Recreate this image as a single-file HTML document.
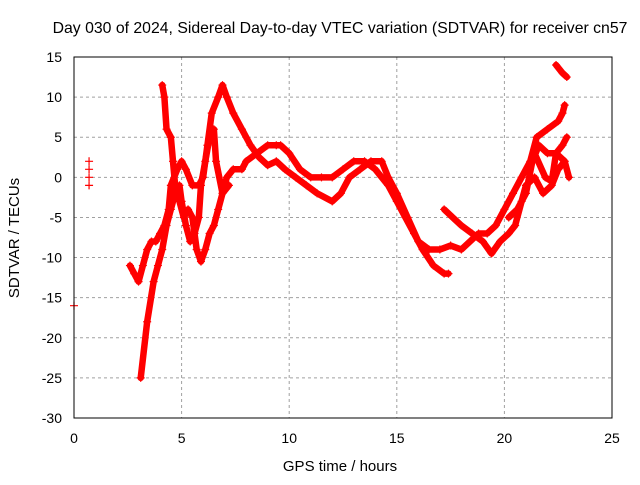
<!DOCTYPE html>
<html><head><meta charset="utf-8"><style>
body{margin:0;background:#fff;}
svg text{font-family:"Liberation Sans",sans-serif;font-size:14px;fill:#000;}
</style></head><body>
<svg id="c" width="640" height="480" xmlns="http://www.w3.org/2000/svg">
<text x="340" y="33" text-anchor="middle" style="font-size:15.8px">Day 030 of 2024, Sidereal Day-to-day VTEC variation (SDTVAR) for receiver cn57</text>
<text x="340" y="471" text-anchor="middle" style="font-size:15px">GPS time / hours</text>
<text transform="translate(19,238) rotate(-90)" text-anchor="middle" style="font-size:15px">SDTVAR / TECUs</text>
<g id="grid"></g><g id="marks"></g>
<rect x="74" y="57" width="538" height="361" fill="none" stroke="#000" stroke-width="1"/>
</svg>
<script>
const xTicks=[0,5,10,15,20,25];
const yTicks=[-30,-25,-20,-15,-10,-5,0,5,10,15];
const trackA=[[4.1,11.5],[4.2,10],[4.3,6],[4.5,5],[4.6,2],[4.7,-1],[4.9,-3],[5.1,-5],[5.3,-4],[5.5,-5],[5.7,-9],[5.9,-10.5],[6.1,-9],[6.3,-7],[6.5,-6],[6.7,-4],[6.9,-2],[7.1,0],[7.4,1],[7.8,1],[8.0,2],[8.5,3],[9.0,4],[9.4,4],[9.6,4],[10,3],[10.5,1],[11,0],[11.5,0],[12,0],[12.5,1],[13,2],[13.5,2],[14,1],[14.3,0],[14.6,-1],[15,-3],[15.4,-5],[15.8,-7],[16.2,-9],[16.7,-11],[17.2,-12],[17.4,-12]];
const trackB=[[2.6,-11],[2.8,-12],[3.0,-13],[3.2,-11],[3.4,-9],[3.6,-8],[3.8,-8],[4.0,-7],[4.2,-6],[4.4,-4],[4.5,-1],[4.8,1],[5.0,2],[5.2,1],[5.5,-1],[5.8,-1],[6.0,0],[6.2,4],[6.4,8],[6.7,10],[6.9,11.5],[7.1,10],[7.4,8],[7.8,6],[8.2,4],[8.6,2.5],[9.0,1.5],[9.4,2],[9.8,1],[10.3,0],[10.8,-1],[11.3,-2],[12,-3],[12.4,-2],[12.8,0],[13.3,1],[13.8,2],[14.3,2],[14.6,0],[15,-2],[15.5,-5],[16,-8],[16.5,-9],[17,-9],[17.5,-8.5],[18,-9],[18.4,-8],[18.8,-7],[19.2,-7],[19.6,-6],[20,-4],[20.4,-2],[20.8,0],[21.2,2],[21.5,5],[22,6],[22.5,7],[22.7,8],[22.8,9]];
const trackC=[[3.1,-25],[3.4,-18],[3.7,-13],[3.9,-11],[4.1,-9],[4.3,-6],[4.5,-4],[4.7,-2],[4.9,-1],[5.0,-3],[5.2,-6],[5.4,-8],[5.6,-7],[5.8,-5],[5.9,-1],[6.1,2],[6.3,5],[6.5,6],[6.6,2],[6.9,-2],[7.2,-1]];
const trackD=[[17.2,-4],[17.6,-5],[18,-6],[18.5,-7],[19,-8],[19.4,-9.5],[19.8,-8],[20.2,-7],[20.5,-6],[20.8,-3],[21,-1],[21.4,0],[21.8,-2],[22.2,-1],[22.5,1],[22.8,2]];
const trackE=[[20.2,-5],[20.6,-4],[21,-2],[21.3,2],[21.6,4],[22,3],[22.4,3],[22.8,2],[23,0]];
const trackF=[[22.4,14],[22.7,13],[22.9,12.5]];
const trackG=[[21.4,3],[21.9,0],[22.2,-0.5],[22.4,3],[22.7,4],[22.9,5]];
const isolated=[[0,-16],[0.7,2],[0.7,1],[0.7,0],[0.7,-1]];
const tracks=[trackA,trackB,trackC,trackD,trackE,trackF,trackG];
const X=h=>74+h*538/25, Y=v=>57+(15-v)*361/45;
const NS='http://www.w3.org/2000/svg';
const grid=document.getElementById('grid'), marks=document.getElementById('marks');
function mk(tag,attrs,parent){const e=document.createElementNS(NS,tag);for(const k in attrs)e.setAttribute(k,attrs[k]);parent.appendChild(e);return e;}
xTicks.forEach(t=>{
  const g=mk('line',{x1:X(t),x2:X(t),y1:57,y2:418,stroke:'#a0a0a0','stroke-dasharray':'3,3'},grid);
  
  
  const l=mk('text',{x:X(t),y:443,'text-anchor':'middle'},grid);l.textContent=t;
  
  
});
yTicks.forEach(t=>{
  const g=mk('line',{x1:74,x2:612,y1:Y(t),y2:Y(t),stroke:'#a0a0a0','stroke-dasharray':'3,3'},grid);
  
  
  const l=mk('text',{x:62,y:Y(t)+5,'text-anchor':'end'},grid);l.textContent=t;
  
  
});
function plus(h,v){
  const p=mk('path',{d:`M${X(h)-4},${Y(v)}h8M${X(h)},${Y(v)-4}v8`,stroke:'#f00','stroke-width':1.2},marks);
  
  
}
tracks.forEach(tr=>{
  const pl=mk('polyline',{points:tr.map(p=>X(p[0])+','+Y(p[1])).join(' '),fill:'none',stroke:'#f00','stroke-width':6.5,'stroke-linejoin':'round','stroke-linecap':'round'},marks);
  
  
  tr.forEach(p=>plus(p[0],p[1]));
});
isolated.forEach(p=>plus(p[0],p[1]));
</script>
</body></html>
